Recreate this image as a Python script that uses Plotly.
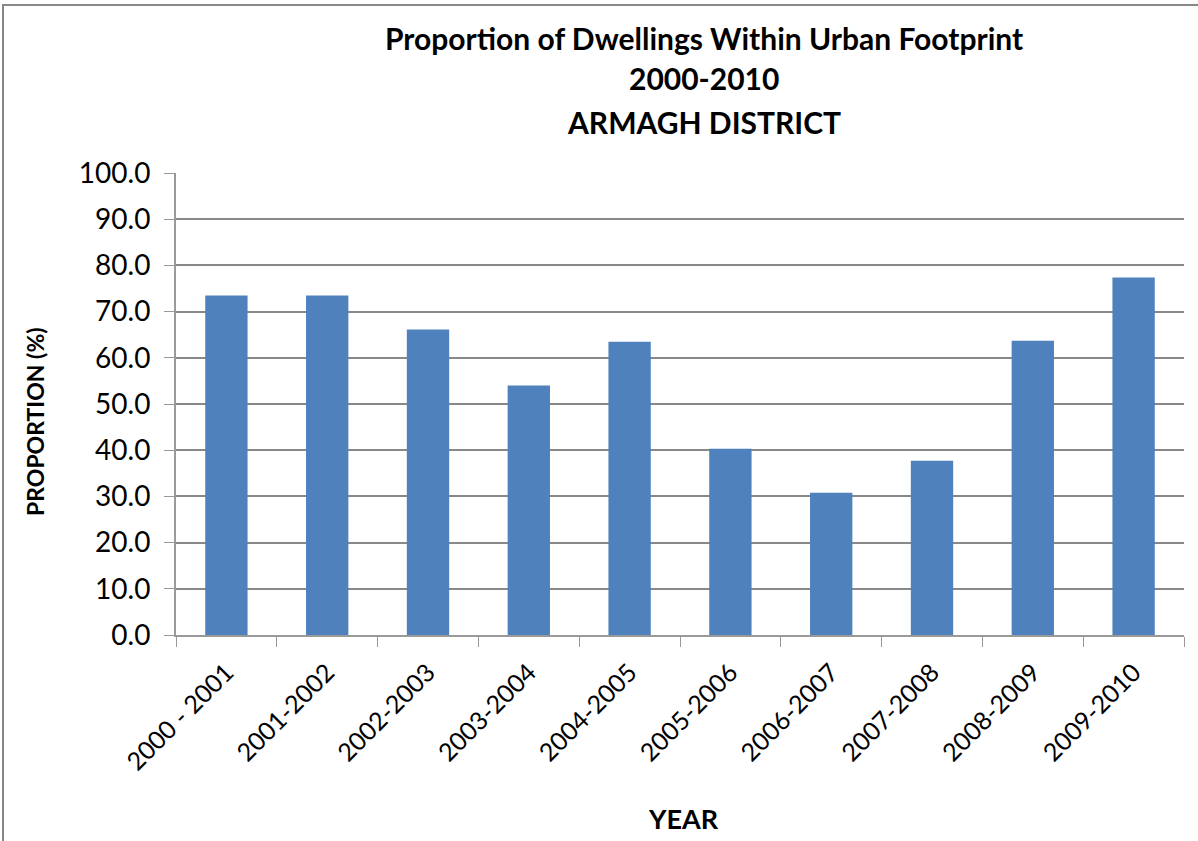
import plotly.graph_objects as go

# proportion of dwellings within the urban footprint, Armagh district
years = ['2000 - 2001', '2001-2002', '2002-2003', '2003-2004', '2004-2005',
         '2005-2006', '2006-2007', '2007-2008', '2008-2009', '2009-2010']
proportion = [73.5, 73.5, 66.1, 54.0, 63.5, 40.3, 30.8, 37.7, 63.7, 77.4]
y_ticks = [0, 10, 20, 30, 40, 50, 60, 70, 80, 90, 100]

W, H = 1198, 841
L, R, T, B = 176, 14, 173, 206
pw, ph = W - L - R, H - T - B


def px(x):
    return (x - L) / pw


def py(y):
    return (H - B - y) / ph


fig = go.Figure(go.Bar(x=years, y=proportion, marker_color='#4f81bd',
                       marker_line_width=0))

title_lines = ['Proportion of Dwellings Within Urban Footprint',
               '2000-2010', 'ARMAGH DISTRICT']
title_y = [38, 78, 122]
anns = []
for txt, yy in zip(title_lines, title_y):
    anns.append(dict(text='<b>%s</b>' % txt, x=px(704), y=py(yy),
                     font=dict(size=30, color='black')))
# axis titles
anns.append(dict(text='<b>YEAR</b>', x=px(683), y=py(818),
                 font=dict(size=27, color='black')))
anns.append(dict(text='<b>PROPORTION (%)</b>', x=px(35), y=py(422),
                 textangle=-90, font=dict(size=23, color='black')))
for a in anns:
    a.update(xref='paper', yref='paper', showarrow=False,
             xanchor='center', yanchor='middle')

fig.update_layout(
    width=W, height=H,
    margin=dict(l=L, r=R, t=T, b=B),
    paper_bgcolor='white', plot_bgcolor='white',
    font=dict(family='Lato, Open Sans, sans-serif', color='black'),
    showlegend=False,
    bargap=0.58,
    annotations=anns,
    xaxis=dict(
        automargin=False,
        tickangle=-45, tickfont=dict(size=25), ticklabelstandoff=11,
        tickson='boundaries', ticks='outside', ticklen=10,
        tickcolor='#999999', showline=True, linecolor='#999999',
        linewidth=2, showgrid=False,
    ),
    yaxis=dict(
        automargin=False,
        range=[0, 100], tickvals=y_ticks, tickformat='.1f',
        tickfont=dict(size=28), ticks='outside', ticklen=10,
        ticklabelstandoff=8,
        tickcolor='#999999', showline=True, linecolor='#999999', linewidth=2,
        showgrid=True, gridcolor='#888888', gridwidth=2, zeroline=False,
    ),
    shapes=[dict(type='rect', xref='paper', yref='paper',
                 x0=-(L - 3) / pw, x1=(W + 20 - L) / pw,
                 y0=-(B + 20) / ph, y1=(H - B - 5) / ph,
                 line=dict(color='#888888', width=2), layer='below')],
)

fig.write_html("out.html", config={'displayModeBar': False},
               post_script="document.body.style.margin='0';")
